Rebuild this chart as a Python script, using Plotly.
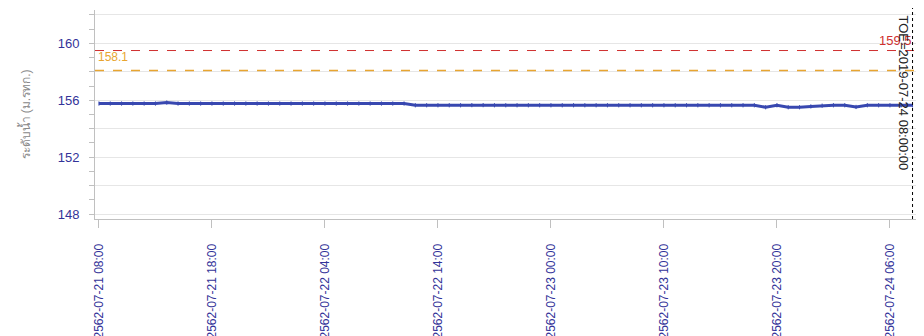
import plotly.graph_objects as go

# ---- data ----
start_day = 21
start_hour = 8
water_level = [
    155.77, 155.77, 155.77, 155.77, 155.77, 155.77, 155.84, 155.77, 155.77, 155.77,
    155.77, 155.77, 155.77, 155.77, 155.77, 155.77, 155.77, 155.77, 155.77, 155.77,
    155.77, 155.77, 155.77, 155.77, 155.77, 155.77, 155.77, 155.77, 155.65, 155.65,
    155.65, 155.65, 155.65, 155.66, 155.66, 155.65, 155.65, 155.65, 155.65, 155.65,
    155.65, 155.65, 155.65, 155.65, 155.65, 155.65, 155.65, 155.65, 155.65, 155.65,
    155.65, 155.65, 155.65, 155.65, 155.65, 155.65, 155.65, 155.65, 155.65, 155.51,
    155.65, 155.51, 155.51, 155.57, 155.62, 155.65, 155.65, 155.53, 155.65, 155.65,
    155.65, 155.65, 155.65,
]
times = []
for i in range(len(water_level)):
    h = start_hour + i
    times.append(f"2562-07-{start_day + h // 24:02d} {h % 24:02d}:00")

x_tick_vals = ["2562-07-21 08:00", "2562-07-21 18:00", "2562-07-22 04:00", "2562-07-22 14:00",
               "2562-07-23 00:00", "2562-07-23 10:00", "2562-07-23 20:00", "2562-07-24 06:00"]
x_range = ["2562-07-21 07:39", "2562-07-24 08:29"]
y_tick_vals = [148, 150, 152, 154, 156, 158, 160, 162]
y_tick_text = ["148", "", "152", "", "156", "", "160", ""]
y_range = [147.65, 162.35]

bank_level = 159.5
warn_level = 158.1
toe_time = "2562-07-24 08:00"
toe_label = "TOE=2019-07-24 08:00:00"
y_title = "ระดับน้ำ (ม.รทก.)"

line_color = "#3848b0"
tick_color = "#333399"
red = "#d03030"
gold = "#e8a530"

fig = go.Figure()
fig.add_trace(go.Scatter(
    x=times, y=water_level, mode="lines+markers",
    line=dict(color=line_color, width=3),
    marker=dict(symbol="line-ns-open", size=3, line=dict(color=line_color, width=1)),
    showlegend=False,
))

fig.add_hline(y=bank_level, line=dict(color=red, width=1, dash="dash"))
fig.add_hline(y=warn_level, line=dict(color=gold, width=1.5, dash="dash"))
fig.add_shape(type="line", xref="x", yref="paper", x0=toe_time, x1=toe_time, y0=0, y1=1.05,
              line=dict(color="#000000", width=1, dash="dot"))

fig.add_annotation(x=0, xref="paper", y=warn_level, yref="y", text=str(warn_level),
                   showarrow=False, xanchor="left", yanchor="bottom", xshift=1, yshift=4,
                   font=dict(color=gold, size=12, family="Liberation Sans, Arial"))
fig.add_annotation(x=1, xref="paper", y=bank_level, yref="y", text=str(bank_level),
                   showarrow=False, xanchor="right", yanchor="bottom", xshift=-4, yshift=1,
                   font=dict(color=red, size=13, family="Liberation Sans, Arial"))
fig.add_annotation(x=toe_time, xref="x", y=1, yref="paper", text=toe_label, textangle=90,
                   showarrow=False, xanchor="right", yanchor="top", xshift=0, yshift=-3,
                   font=dict(color="#222222", size=13, family="Liberation Sans, Arial"))

fig.update_layout(
    width=916, height=328,
    margin=dict(l=87, r=6, t=2, b=117, autoexpand=False),
    paper_bgcolor="white", plot_bgcolor="white",
    font=dict(family="Liberation Sans, Arial", size=11),
    xaxis=dict(
        type="date", range=x_range, tickvals=x_tick_vals, tickformat="%Y-%m-%d %H:%M",
        tickangle=-90, ticks="outside", ticklen=8, tickcolor="#c0c0c0",
        ticklabelstandoff=11,
        showgrid=False, showline=True, linecolor="#c0c0c0", linewidth=1,
        tickfont=dict(color=tick_color, size=12), zeroline=False,
    ),
    yaxis=dict(
        range=y_range, tickvals=y_tick_vals, ticktext=y_tick_text,
        ticks="outside", ticklen=5, tickcolor="#c0c0c0", ticklabelstandoff=7,
        showgrid=True, gridcolor="#e6e6e6", gridwidth=1,
        showline=True, linecolor="#c0c0c0", linewidth=1, zeroline=False,
        tickfont=dict(color=tick_color, size=13),
        minor=dict(dtick=1, ticks="outside", ticklen=5, tickcolor="#c0c0c0", showgrid=False),
        title=dict(text=y_title, font=dict(color="#888888", size=12), standoff=24),
    ),
)

fig.write_html("out.html")
